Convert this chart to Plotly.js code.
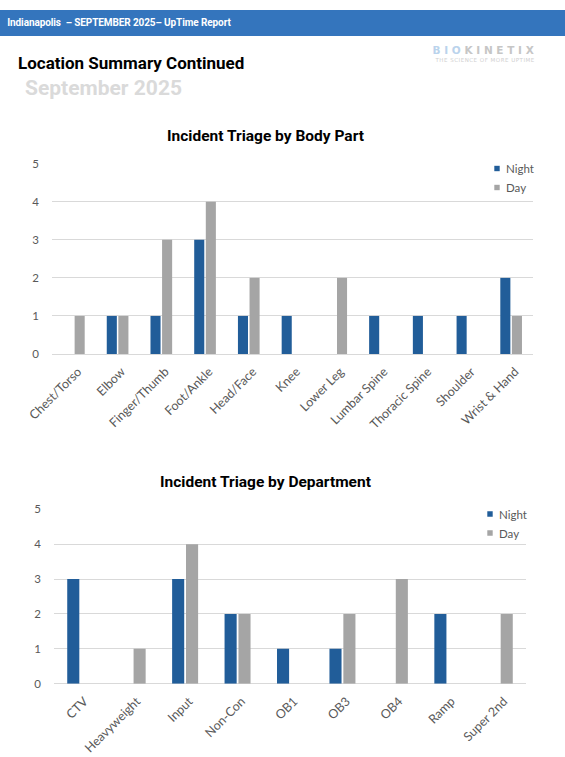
<!DOCTYPE html>
<html><head><meta charset="utf-8">
<script src="https://cdn.plot.ly/plotly-3.0.1.min.js"></script>
<style>html,body{margin:0;padding:0;background:#fff;} #chart{width:565px;height:757px;}</style>
</head><body><div id="chart"></div>
<script>
// ---- data ----
const bodyParts = ['Chest/Torso','Elbow','Finger/Thumb','Foot/Ankle','Head/Face','Knee','Lower Leg','Lumbar Spine','Thoracic Spine','Shoulder','Wrist & Hand'];
const bodyNight = [0,1,1,3,1,1,0,1,1,1,2];
const bodyDay   = [1,1,3,4,2,0,2,0,0,0,1];
const departments = ['CTV','Heavyweight','Input','Non-Con','OB1','OB3','OB4','Ramp','Super 2nd'];
const deptNight = [3,0,3,2,1,1,0,2,0];
const deptDay   = [0,1,4,2,0,2,3,0,2];
const seriesNames = ['Night','Day'];
const yTicks = [0,1,2,3,4,5];

// ---- page geometry helpers ----
const W = 565, H = 757;
const fx = p => p / W;
const fy = p => 1 - p / H;

const NIGHT = '#215D99', DAY = '#A5A5A5';
const xTickFont = {family:'Lato, "Liberation Sans", sans-serif', size:12.5, color:'#595959'};
const yTickFont = {family:'Lato, "Liberation Sans", sans-serif', size:11.5, color:'#595959'};

const traces = [
  {type:'bar', name:seriesNames[0], x:bodyParts, y:bodyNight, marker:{color:NIGHT}, xaxis:'x', yaxis:'y', legend:'legend'},
  {type:'bar', name:seriesNames[1], x:bodyParts, y:bodyDay, marker:{color:DAY}, xaxis:'x', yaxis:'y', legend:'legend'},
  {type:'bar', name:seriesNames[0], x:departments, y:deptNight, marker:{color:NIGHT}, xaxis:'x2', yaxis:'y2', legend:'legend2'},
  {type:'bar', name:seriesNames[1], x:departments, y:deptDay, marker:{color:DAY}, xaxis:'x2', yaxis:'y2', legend:'legend2'}
];

const xBase = {type:'category', tickangle:-45, tickfont:xTickFont, showgrid:false, showline:false, ticks:'', ticklabelstandoff:7, ticklabelshift:4, fixedrange:true};
const yBase = {range:[0,5], tickvals:yTicks, tickfont:yTickFont, gridcolor:'#D9D9D9', gridwidth:1, zeroline:true, zerolinecolor:'#D9D9D9', zerolinewidth:1, showline:false, ticks:'', ticklabelstandoff:12, fixedrange:true};
const legBase = {font:{family:'Lato, "Liberation Sans", sans-serif', size:11.5, color:'#595959'}, bgcolor:'rgba(0,0,0,0)', xanchor:'left', yanchor:'top', traceorder:'normal', itemwidth:30};

const layout = {
  width:W, height:H, autosize:false,
  margin:{l:0,r:0,t:0,b:0},
  paper_bgcolor:'#fff', plot_bgcolor:'#fff',
  barmode:'group', bargap:0.47, bargroupgap:0.13,
  xaxis: Object.assign({}, xBase, {domain:[fx(52), fx(533)], anchor:'y'}),
  yaxis: Object.assign({}, yBase, {domain:[fy(354), fy(163.7)], anchor:'x'}),
  xaxis2: Object.assign({}, xBase, {domain:[fx(54), fx(526)], anchor:'y2'}),
  yaxis2: Object.assign({}, yBase, {domain:[fy(683.7), fy(509.3)], anchor:'x2'}),
  legend: Object.assign({}, legBase, {x:fx(466), y:fy(154)}),
  legend2: Object.assign({}, legBase, {x:fx(459), y:fy(499.5)}),
  showlegend:true,
  shapes:[
    {type:'rect', xref:'paper', yref:'paper', x0:0, x1:1, y0:fy(36), y1:fy(10), fillcolor:'#3475BD', line:{width:0}, layer:'below'}
  ],
  annotations:[
    {xref:'paper', yref:'paper', x:fx(3), y:fy(23), xanchor:'left', yanchor:'middle', showarrow:false,
     text:'<b>Indianapolis  – SEPTEMBER 2025– UpTime Report</b>', font:{family:'Roboto, sans-serif', size:10, color:'#ffffff'}},
    {xref:'paper', yref:'paper', x:fx(16), y:fy(63), xanchor:'left', yanchor:'middle', showarrow:false,
     text:'<b>Location Summary Continued</b>', font:{family:'Roboto, sans-serif', size:17, color:'#000000'}},
    {xref:'paper', yref:'paper', x:fx(23), y:fy(88), xanchor:'left', yanchor:'middle', showarrow:false,
     text:'<b>September 2025</b>', font:{family:'Roboto, sans-serif', size:21, color:'#DADADA'}},
    {xref:'paper', yref:'paper', x:fx(485), y:fy(49.5), xanchor:'center', yanchor:'middle', showarrow:false,
     text:'<b><span style="color:#BAD3EC">BIO</span><span style="color:#C6C6C6">KINETIX</span></b>', font:{family:'"DejaVu Sans", sans-serif', size:10.5, color:'#C6C6C6'}},
    {xref:'paper', yref:'paper', x:fx(484.5), y:fy(59.5), xanchor:'center', yanchor:'middle', showarrow:false,
     text:'THE SCIENCE OF MORE UPTIME', font:{family:'"DejaVu Sans", sans-serif', size:5.5, color:'#CFCFCF'}},
    {xref:'paper', yref:'paper', x:fx(265), y:fy(136), xanchor:'center', yanchor:'middle', showarrow:false,
     text:'<b>Incident Triage by Body Part</b>', font:{family:'Roboto, sans-serif', size:15.5, color:'#000000'}},
    {xref:'paper', yref:'paper', x:fx(265.5), y:fy(482), xanchor:'center', yanchor:'middle', showarrow:false,
     text:'<b>Incident Triage by Department</b>', font:{family:'Roboto, sans-serif', size:15.5, color:'#000000'}}
  ]
};

Plotly.newPlot('chart', traces, layout, {staticPlot:true, displayModeBar:false}).then(function(){
  document.querySelectorAll('.annotation-text').forEach(function(t){
    if (t.textContent === 'BIOKINETIX') t.style.letterSpacing = '3.7px';
    if (t.textContent === 'THE SCIENCE OF MORE UPTIME') t.style.letterSpacing = '0.5px';
    if (t.textContent.indexOf('UpTime Report') >= 0) t.style.letterSpacing = '-0.1px';
  });
  // smaller legend swatches sitting close to their labels
  document.querySelectorAll('.legendpoints').forEach(function(g){
    g.setAttribute('transform', 'translate(22,0) scale(0.45)');
  });
});
</script>
</body></html>
